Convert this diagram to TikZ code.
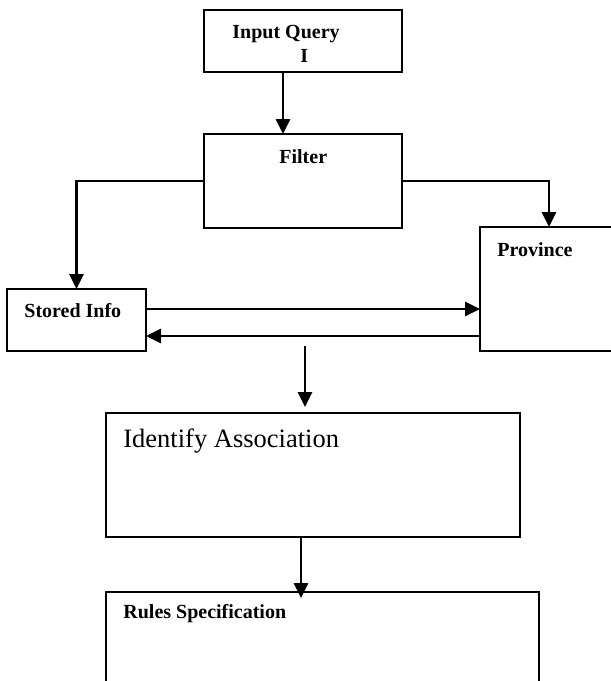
\documentclass[tikz,border=0pt]{standalone}
\usepackage{fontspec}
\setmainfont{Liberation Serif}
\usetikzlibrary{arrows.meta, positioning, calc}

\begin{document}
\begin{tikzpicture}[
  x=0.5pt, y=-0.5pt,
  font=\fontsize{10}{12}\selectfont\bfseries,
  block/.style={draw, line width=0.95pt, inner sep=0pt, outer sep=0pt},
  caption/.style={anchor=base west, inner sep=0pt},
  flow/.style={line width=1.4pt, -{Triangle[length=7.5pt, width=7pt]}},
]
\useasboundingbox (0,0) rectangle (611,681);
\clip (0,0) rectangle (611,681);

% boxes
\node[block, minimum width=99pt, minimum height=31pt] (query) at (303,41) {};
\node[block, minimum width=99pt, minimum height=47pt] (filter) at (303,181) {};
\node[block, minimum width=69.5pt, minimum height=31pt] (stored) at (76.5,320) {};
\node[block, minimum width=80pt, minimum height=62pt] (province) at (560,289) {};
\node[block, minimum width=207pt, minimum height=62pt] (identify) at (313,475) {};
\node[block, minimum width=216.5pt, minimum height=64pt] (rules) at (322.5,656) {};

% texts
\node[caption] (querytxt) at (232,38) {Input Query};
\node[caption] (queryidx) at (300,62) {I};
\node[caption] (filtertxt) at (279,163) {Filter};
\node[caption] (provincetxt) at (497,256) {Province};
\node[caption] (storedtxt) at (24,317) {Stored Info};
\node[caption, font=\fontsize{13.25}{16}\selectfont\mdseries] (identifytxt) at (123,447) {Identify Association};
\node[caption] (rulestxt) at (123,618) {Rules Specification};

% connectors
\draw[flow] ([xshift=-10pt]query.south) -- ([xshift=-10pt]filter.north);
\draw[flow] (filter.west) -| (stored.north);
\draw[flow] (filter.east) -| ([xshift=-5.5pt]province.north);
\draw[flow] ([yshift=5.5pt]stored.east) -- ([yshift=5.5pt]stored.east -| province.west);
\draw[flow] ([yshift=-8pt]stored.east -| province.west) -- ([yshift=-8pt]stored.east);
\coordinate (gap) at (305,346);
\draw[flow] (gap) -- ([yshift=3pt]identify.north -| gap);
\draw[flow] ([xshift=-6pt]identify.south) -- ([xshift=-6pt,yshift=-3pt]identify.south |- rules.north);
\end{tikzpicture}
\end{document}
